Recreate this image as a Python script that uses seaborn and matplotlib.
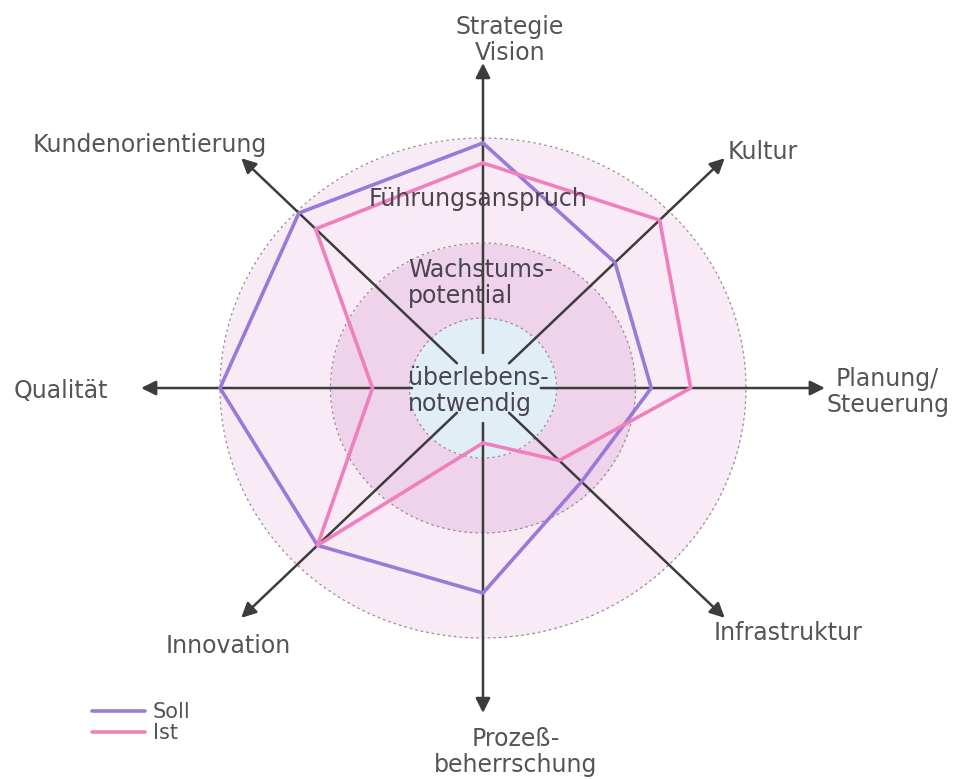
import numpy as np
import pandas as pd
import seaborn as sns
import matplotlib.pyplot as plt

# Achsen im Uhrzeigersinn, oben beginnend
categories = ['Strategie\nVision', 'Kultur', 'Planung/\nSteuerung', 'Infrastruktur',
              'Prozeß-\nbeherrschung', 'Innovation', 'Qualität', 'Kundenorientierung']
soll = [0.98, 0.71, 0.64, 0.53, 0.82, 0.89, 1.00, 0.99]
ist = [0.90, 0.95, 0.79, 0.41, 0.22, 0.89, 0.42, 0.90]

# Zonen (Innenradius -> Außenradius)
zone_radii = [0.28, 0.58, 1.00]
zone_names = ['überlebens-\nnotwendig', 'Wachstums-\npotential', 'Führungsanspruch']
zone_colors = ['#e1eef6', '#eed3ea', '#f9ebf5']

sns.set_theme(style='white')
plt.rcParams['font.family'] = ['DejaVu Sans']

n = len(categories)
theta = np.arange(n) * 2 * np.pi / n

rows = []
for name, vals in [('Soll', soll), ('Ist', ist)]:
    for t, v in zip(list(theta) + [2 * np.pi], vals + vals[:1]):
        rows.append({'theta': t, 'r': v, 'Serie': name})
df = pd.DataFrame(rows)

fig = plt.figure(figsize=(9.6, 7.79), dpi=100)
ax = fig.add_axes([0.1196, 0.0526, 0.767, 0.8986], projection='polar')
ax.set_aspect('auto')
ax.set_theta_zero_location('N')
ax.set_theta_direction(-1)

# Zonen-Hintergrund
tt = np.linspace(0, 2 * np.pi, 400)
inner = 0
for r, c in zip(zone_radii, zone_colors):
    ax.fill_between(tt, inner, r, color=c, zorder=0, lw=0)
    ax.plot(tt, np.full_like(tt, r), color='#9a8a98', lw=0.9, ls=(0, (2, 2.5)), zorder=1)
    inner = r

# Achsenpfeile
start_r = [0.14, 0.14, 0.22, 0.14, 0.14, 0.14, 0.27, 0.14]
for t, r0 in zip(theta, start_r):
    ax.annotate('', xy=(t, 1.30), xytext=(t, r0),
                arrowprops=dict(arrowstyle='-|>', mutation_scale=22, lw=1.8,
                                color='#3c3c3c', shrinkA=0, shrinkB=0),
                zorder=2)

sns.lineplot(data=df, x='theta', y='r', hue='Serie', sort=False, estimator=None,
             palette={'Soll': '#9a7ad8', 'Ist': '#ef80bd'}, lw=2.6, ax=ax, zorder=3)

ax.set_ylim(0, 1.4)
ax.set_xticks([])
ax.set_yticks([])
ax.grid(False)
ax.spines['polar'].set_visible(False)
ax.set_facecolor('none')
ax.set_xlabel('')
ax.set_ylabel('')

W, H = 960, 779
lab_kw = dict(color='#555555', fontsize=17, linespacing=1.1)
label_pos = [(510, 40, 'center'), (728, 152, 'left'), (826, 392, 'left'), (714, 633, 'left'),
             (516, 752, 'center'), (228, 646, 'center'), (14, 391, 'left'), (33, 145, 'left')]
for lab, (px, py, ha) in zip(categories, label_pos):
    fig.text(px / W, 1 - py / H, lab, ha=ha, va='center', multialignment='center', **lab_kw)

zone_pos = [(408, 391, 'left'), (408, 283, 'left'), (478, 199, 'center')]
for name, (px, py, ha) in zip(zone_names, zone_pos):
    fig.text(px / W, 1 - py / H, name, ha=ha, va='center', multialignment='left',
             color='#4a4350', fontsize=17, linespacing=1.1, zorder=5)

sns.move_legend(ax, 'upper left', bbox_to_anchor=(82 / W, 1 - 692 / H),
                bbox_transform=fig.transFigure, title=None, frameon=False,
                fontsize=15, labelcolor='#555555', handlelength=2.5,
                labelspacing=0.05, borderpad=0, handletextpad=0.4)

fig.savefig('out.png', dpi=100)
